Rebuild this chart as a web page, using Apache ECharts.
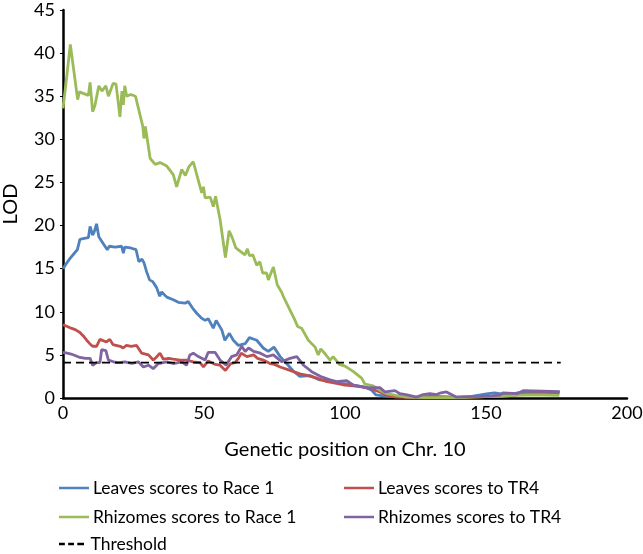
<!DOCTYPE html>
<html>
<head>
<meta charset="utf-8">
<script src="https://cdn.jsdelivr.net/npm/echarts@6/dist/echarts.min.js"></script>
<style>
html,body{margin:0;padding:0;background:#fff;}
#chart{width:643px;height:554px;}
</style>
</head>
<body>
<div id="chart"></div>
<script>
// Tick settings / labels
var xTicks = [0, 50, 100, 150, 200];
var yTicks = [0, 5, 10, 15, 20, 25, 30, 35, 40, 45];
var seriesNames = ['Leaves scores to Race 1', 'Leaves scores to TR4', 'Rhizomes scores to Race 1', 'Rhizomes scores to TR4', 'Threshold'];

// [position (cM), LOD]
var leavesRace1 = [[0,15.0],[1.2,15.6],[2.5,16.2],[3.8,16.7],[5.1,17.2],[6.0,18.4],[7.5,18.5],[9.0,18.6],[9.6,19.9],[10.5,18.9],[11.1,19.3],[11.9,20.2],[12.7,18.7],[14.3,17.9],[15.7,17.2],[16.4,17.6],[18.5,17.5],[20.8,17.6],[21.4,16.8],[21.9,17.5],[24,17.4],[25.9,17.2],[26.9,15.8],[28.0,16.1],[28.7,15.7],[29.7,14.6],[30.7,13.7],[31.8,13.5],[33.2,12.8],[34.3,11.8],[35.0,12.3],[36.8,11.7],[39.1,11.4],[40.9,11.1],[43.3,11.0],[44.4,11.2],[46.0,10.4],[47.5,9.8],[49.0,9.3],[50.4,9.0],[51.5,9.2],[53.3,8.1],[54.3,9.0],[56.3,7.9],[57.4,6.7],[59.0,7.5],[60.4,6.7],[62.2,6.1],[64.6,6.3],[66.1,7.0],[68.7,6.7],[71.0,5.8],[72.8,5.4],[74.8,5.9],[77.0,4.8],[79.3,4.0],[81.7,3.1],[84.0,2.5],[87.6,2.6],[91,2.1],[94.5,2.0],[98.6,1.7],[103,1.5],[107.7,1.2],[109.5,0.9],[111,0.35],[115,0.2],[120,0.15],[125,0.1],[130,0.2],[135,0.15],[140,0.1],[145,0.2],[148,0.35],[150.8,0.5],[153,0.6],[156,0.45],[160,0.5],[163,0.7],[170,0.65],[176,0.6]];

var leavesTR4 = [[0,8.5],[1.5,8.3],[2.9,8.1],[4.5,7.9],[6.0,7.6],[7.2,7.2],[8.4,6.7],[9.5,6.3],[10.5,6.0],[11.9,6.0],[13.1,6.8],[13.7,6.9],[15.4,6.5],[16.6,6.8],[17.7,6.2],[18.4,6.0],[20.3,6.0],[21.3,5.8],[22.5,6.1],[24.2,6.0],[26.1,6.1],[26.7,6.3],[27.9,5.2],[30.3,5.0],[32.0,4.4],[33,4.7],[34.4,5.2],[35.6,4.5],[37.5,4.6],[39.1,4.5],[41.5,4.4],[43.8,4.4],[46.2,4.2],[48.6,4.1],[49.8,3.6],[51.5,4.3],[53.9,3.9],[55.7,3.8],[57.6,3.2],[59.5,4.0],[61.0,4.1],[62.2,4.6],[63.2,5.2],[65.2,4.8],[67.6,5.0],[69,4.6],[71.0,4.4],[73.4,4.0],[75,3.9],[77.0,3.6],[80.5,3.2],[84.0,2.8],[87,2.6],[90.0,2.3],[93.6,1.9],[97,1.7],[100,1.5],[103,1.4],[106,1.3],[110,1.0],[113,0.6],[115,0.3],[118,0.1],[125,0.05],[130,0.1],[135,0.05],[140,0.05],[145,0.1],[150,0.15],[155,0.2],[160,0.3],[163,0.45],[170,0.5],[176,0.5]];

var rhizomesRace1 = [[0,33.6],[1.3,37.2],[2.6,41.0],[3.9,37.8],[5.2,34.6],[5.8,35.5],[7.4,35.3],[9.0,35.1],[9.6,36.6],[10.5,33.2],[11.3,33.9],[11.9,33.8],[12.7,36.2],[13.8,35.6],[15.2,36.2],[16.1,35.0],[17.8,36.5],[18.8,36.4],[20.2,32.6],[20.9,35.6],[21.4,34.0],[21.9,36.2],[22.6,35.0],[24.0,35.2],[25.7,35.0],[26.6,33.8],[27.3,33.8],[28.3,31.5],[28.7,30.1],[29.2,31.5],[30.9,27.8],[31.9,27.4],[32.7,27.1],[34.4,27.3],[36.8,26.9],[39.1,25.9],[40.3,24.5],[42.1,26.5],[43.4,25.8],[44.6,26.8],[46.2,27.4],[47.7,25.6],[49.2,23.8],[49.8,24.5],[50.4,23.2],[52.2,23.3],[53.3,22.2],[54.1,23.4],[55.7,20.7],[57.6,16.3],[58.9,19.4],[60,18.6],[61.3,17.4],[64.5,16.6],[65.4,17.3],[66.1,16.5],[67.3,16.6],[68.7,15.4],[69.8,15.8],[70.8,14.5],[72.2,14.5],[72.8,13.7],[74.6,15.2],[76.0,13.1],[77.5,12.3],[78.1,11.8],[80.5,10.2],[82,9.2],[83.2,8.3],[84.6,8.1],[87.0,6.7],[89.4,5.9],[90.5,5.0],[91.4,5.7],[93,5.1],[94.7,4.4],[95.8,4.8],[98.0,3.9],[100,3.7],[103,3.05],[105.9,2.3],[107.1,1.6],[110,1.4],[112.4,0.9],[114.8,0.5],[118,0.3],[122,0.1],[128,0.05],[135,0.05],[140,0.05],[145,0.1],[150,0.15],[155,0.2],[160,0.3],[165,0.35],[170,0.35],[176,0.3]];

var rhizomesTR4 = [[0,5.3],[1.5,5.2],[2.9,5.1],[4.5,4.9],[6.0,4.7],[8,4.6],[9.6,4.6],[10.5,3.8],[11.9,4.1],[13.1,4.1],[13.7,5.6],[15.2,5.5],[16.1,4.4],[17.9,4.2],[19.6,4.1],[22.0,4.2],[24.4,4.0],[26.7,4.2],[28.5,3.6],[30.3,3.8],[32.0,3.4],[33.8,4.0],[36.8,4.2],[39.1,4.0],[42.1,4.2],[43.8,3.8],[45.0,5.0],[46.2,5.2],[48.0,4.8],[50.4,4.4],[51.5,5.3],[53.9,5.3],[55.7,4.4],[57.8,3.8],[59.8,4.8],[61.6,5.0],[63.4,6.0],[64.6,5.4],[65.8,5.8],[67.6,5.4],[70.0,5.2],[72.3,4.8],[74.6,5.0],[77.5,4.2],[80.5,4.6],[82.9,4.8],[85.3,3.8],[88.2,3.05],[91.4,2.5],[94.7,2.1],[97,1.9],[100.6,2.0],[103,1.5],[107.7,1.2],[112.4,1.2],[114.2,0.7],[117.7,0.85],[119.5,0.5],[122,0.35],[125.4,0.1],[127.7,0.4],[130.1,0.5],[132.5,0.4],[134,0.6],[136.0,0.7],[139.6,0.1],[144,0.15],[148,0.2],[152,0.25],[155,0.35],[156,0.6],[161,0.5],[163.2,0.85],[170,0.8],[176.2,0.75]];

var thresholdX = [0, 176.5];
var thresholdLOD = 4.1;

var colors = ['#4F81BD', '#C0504D', '#9BBB59', '#8064A2', '#000000'];
var FONT = 'Lato';

var chart = echarts.init(document.getElementById('chart'), null, {renderer: 'canvas'});

function lineSeries(name, data, color) {
  return {
    name: name, type: 'line', data: data, showSymbol: false, symbol: 'none',
    lineStyle: {color: color, width: 2.8}, itemStyle: {color: color},
    animation: false, z: 2
  };
}

function legendItem(name, left, top, icon) {
  return {
    data: [name], left: left, top: top, orient: 'horizontal',
    icon: icon || 'rect', itemWidth: 30, itemHeight: 2.5, itemGap: 0,
    padding: 0, selectedMode: false,
    textStyle: {fontFamily: FONT, fontSize: 17.5, color: '#000', padding: [0, 0, 0, -1]}
  };
}

var dashIcon = 'path://M0,0h7v3h-7zM11,0h7v3h-7zM22,0h8v3h-8z';

var option = {
  backgroundColor: '#fff',
  animation: false,
  grid: {left: 63, right: 16, top: 10, bottom: 156, containLabel: false, outerBoundsMode: 'none'},
  legend: [
    legendItem(seriesNames[0], 59, 479),
    legendItem(seriesNames[1], 344, 479),
    legendItem(seriesNames[2], 59, 508),
    legendItem(seriesNames[3], 344, 508),
    legendItem(seriesNames[4], 59, 535, dashIcon)
  ],
  xAxis: {
    type: 'value', min: xTicks[0], max: xTicks[xTicks.length - 1], interval: xTicks[1] - xTicks[0],
    name: 'Genetic position on Chr. 10', nameLocation: 'middle', nameGap: 42,
    nameTextStyle: {fontFamily: FONT, fontSize: 20, color: '#000'},
    axisLine: {show: true, lineStyle: {color: '#000', width: 2.5}},
    axisTick: {show: false},
    axisLabel: {fontFamily: FONT, fontSize: 18, color: '#000', margin: 6},
    splitLine: {show: false}
  },
  yAxis: {
    type: 'value', min: yTicks[0], max: yTicks[yTicks.length - 1], interval: yTicks[1] - yTicks[0],
    name: 'LOD', nameLocation: 'middle', nameGap: 42,
    nameTextStyle: {fontFamily: FONT, fontSize: 20, color: '#000'},
    axisLine: {show: true, onZero: false, lineStyle: {color: '#000', width: 2.5}},
    axisTick: {show: true, length: 3, lineStyle: {color: '#000', width: 1}},
    axisLabel: {fontFamily: FONT, fontSize: 18, color: '#000', margin: 8},
    splitLine: {show: false}
  },
  series: [
    lineSeries(seriesNames[0], leavesRace1, colors[0]),
    lineSeries(seriesNames[1], leavesTR4, colors[1]),
    lineSeries(seriesNames[2], rhizomesRace1, colors[2]),
    lineSeries(seriesNames[3], rhizomesTR4, colors[3]),
    {
      name: seriesNames[4], type: 'line', showSymbol: false, symbol: 'none',
      data: thresholdX.map(function (x) { return [x, thresholdLOD]; }),
      lineStyle: {color: colors[4], width: 1.8, type: [8, 5]},
      itemStyle: {color: colors[4]}, animation: false, z: 3
    }
  ]
};
chart.setOption(option);
</script>
</body>
</html>
